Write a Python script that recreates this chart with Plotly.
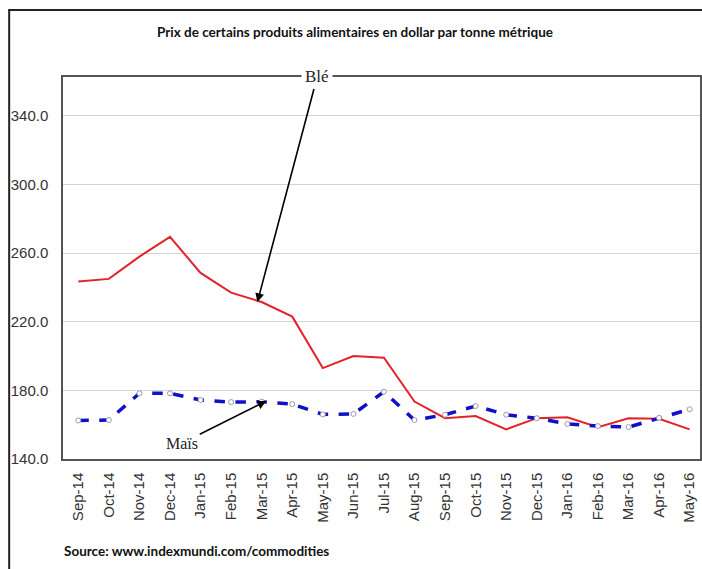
import plotly.graph_objects as go

months = ["Sep-14", "Oct-14", "Nov-14", "Dec-14", "Jan-15", "Feb-15", "Mar-15",
          "Apr-15", "May-15", "Jun-15", "Jul-15", "Aug-15", "Sep-15", "Oct-15",
          "Nov-15", "Dec-15", "Jan-16", "Feb-16", "Mar-16", "Apr-16", "May-16"]
ble = [243.5, 245, 258, 269.5, 248.5, 237, 231.5, 223, 193, 200, 199, 173.5,
       163.8, 165, 157.3, 163.8, 164.3, 158.6, 163.8, 163.4, 157.3]
mais = [162.5, 162.7, 178.3, 178.3, 174.4, 173.2, 173.4, 172, 166, 166.3, 179.2,
        162.7, 165.8, 170.9, 165.8, 163.8, 160.4, 159.2, 158.6, 164, 169]
ytick_vals = [140, 180, 220, 260, 300, 340]
ytick_text = ["140.0", "180.0", "220.0", "260.0", "300.0", "340.0"]

x_idx = list(range(len(months)))

W, H = 702, 569
L, R, T, B = 63, 0, 77, 110
pw, ph = W - L - R, H - T - B


def px2paper_x(px):
    return (px - L) / pw


def px2paper_y(py):
    return (H - B - py) / ph


fig = go.Figure()
fig.add_trace(go.Scatter(
    x=x_idx, y=ble, mode="lines", name="Blé",
    line=dict(color="#E2232A", width=2), showlegend=False, hoverinfo="skip"))
fig.add_trace(go.Scatter(
    x=x_idx, y=mais, mode="lines+markers", name="Maïs",
    line=dict(color="#1010C8", width=3.5, dash="dash"),
    marker=dict(size=5, color="white", line=dict(color="#9A9AB0", width=1)),
    showlegend=False, hoverinfo="skip"))

# Arrow annotations
fig.add_annotation(
    x=5.86, y=231.5, xref="x", yref="y", text="Blé",
    ax=60, ay=-226, axref="pixel", ayref="pixel",
    showarrow=True, arrowhead=2, arrowsize=1.1, arrowwidth=1.6, arrowcolor="black",
    font=dict(family="Liberation Serif, Times New Roman, serif", size=17, color="#222"),
    bgcolor="white", borderpad=3)
fig.add_annotation(
    x=6.15, y=173.8, xref="x", yref="y", text="Maïs",
    ax=-84, ay=42, axref="pixel", ayref="pixel",
    showarrow=True, arrowhead=2, arrowsize=1.1, arrowwidth=1.6, arrowcolor="black",
    font=dict(family="Liberation Serif, Times New Roman, serif", size=16, color="#222"),
    borderpad=1)

# Source
fig.add_annotation(
    x=px2paper_x(62), y=px2paper_y(551), xref="paper", yref="paper",
    text="Source: www.indexmundi.com/commodities",
    showarrow=False, xanchor="left", yanchor="middle",
    font=dict(family="Lato, Open Sans, sans-serif", size=13.5, color="#111", weight="bold"))

# outer border: left and top edges only (the rest lies outside the picture)
fig.add_shape(type="line", xref="paper", yref="paper",
              x0=px2paper_x(9), x1=px2paper_x(9), y0=px2paper_y(575), y1=px2paper_y(10),
              line=dict(color="#222", width=2), layer="below")
fig.add_shape(type="line", xref="paper", yref="paper",
              x0=px2paper_x(8), x1=px2paper_x(710), y0=px2paper_y(10), y1=px2paper_y(10),
              line=dict(color="#222", width=2), layer="below")

fig.update_layout(
    width=W, height=H,
    margin=dict(l=L, r=R, t=T, b=B),
    paper_bgcolor="white", plot_bgcolor="white",
    title=dict(text="Prix de certains produits alimentaires en dollar par tonne métrique",
               x=355 / W, xanchor="center", y=1 - 32 / H, yanchor="middle",
               font=dict(family="Lato, Open Sans, sans-serif", size=13.5, color="#111", weight="bold")),
    xaxis=dict(
        tickmode="array", tickvals=x_idx, ticktext=months, tickangle=-90,
        range=[-0.5, 20.34], showgrid=False, zeroline=False,
        showline=True, linecolor="#555", linewidth=1.5, mirror=True,
        ticks="", ticklabelstandoff=6,
        tickfont=dict(family="Liberation Sans, Arial, sans-serif", size=15, color="#333")),
    yaxis=dict(
        range=[140, 362.7], tickmode="array", tickvals=ytick_vals, ticktext=ytick_text,
        showgrid=True, gridcolor="#D4D4D4", gridwidth=1.2, zeroline=False,
        showline=True, linecolor="#555", linewidth=1.5, mirror=True,
        ticks="", ticklabelstandoff=10,
        tickfont=dict(family="Liberation Sans, Arial, sans-serif", size=15, color="#333")),
)

fig.write_html(
    "out.html",
    config={"displayModeBar": False},
    post_script=("document.documentElement.style.overflow='hidden';"
                 "document.body.style.margin='0px';"
                 "document.body.style.overflow='hidden';"))
